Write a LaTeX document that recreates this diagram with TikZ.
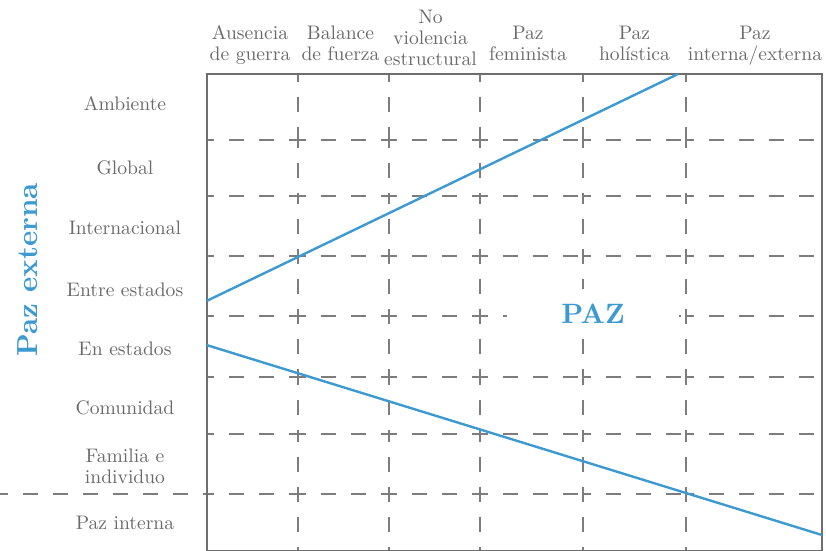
\documentclass[tikz,border=0pt]{standalone}
\usepackage{fontspec}
\setmainfont{lmroman10-regular.otf}[BoldFont=lmroman10-bold.otf]
\definecolor{txtgray}{RGB}{105,105,105}
\definecolor{framegray}{RGB}{110,110,110}
\definecolor{dashgray}{RGB}{125,125,125}
\definecolor{pazblue}{RGB}{61,154,209}
\begin{document}
\begin{tikzpicture}[x=1pt,y=-1pt,
  lbl/.style={inner sep=0pt, anchor=base, text=txtgray, font=\fontsize{19.6}{21}\selectfont},
  gridline/.style={draw=dashgray, line width=1.4pt, dash pattern=on 15pt off 15pt, dash phase=7.5pt},
  framebox/.style={draw=framegray, line width=2pt},
  pazline/.style={draw=pazblue, line width=2.4pt},
  bigblue/.style={inner sep=0pt, text=pazblue}]
\useasboundingbox (0,0) rectangle (826,550);
\begin{scope}
\clip (0,0) rectangle (826,550);
% horizontal dashed segments
\foreach \a/\b in {206.5/298,298/389,389/480,480/583,583/686,686/822}{
  \foreach \y in {140,196,256,316,377,434,494}{
    \draw[gridline] (\a,\y) -- (\b,\y);
  }
}
\draw[gridline] (0,494) -- (206.5,494);
% vertical dashed segments
\foreach \x in {298,389,480,583,686}{
  \foreach \a/\b in {74/140,140/196,196/256,256/316,316/377,377/434,434/494,494/550}{
    \draw[gridline] (\x,\a) -- (\x,\b);
  }
}
% PAZ label (white box over the grid)
\node[bigblue, fill=white, minimum width=172pt, minimum height=50pt,
      font=\fontsize{28}{32}\selectfont\bfseries] (paz) at (593,314) {PAZ};
% frame
\draw[framebox] (206.5,74) rectangle (822,551);
% blue lines
\coordinate (u1) at (206.5,301);
\coordinate (u2) at (678,74);
\coordinate (l1) at (206.5,345);
\coordinate (l2) at (822,535);
\draw[pazline] (u1) -- (u2);
\draw[pazline] (l1) -- (l2);
\end{scope}
% column headers
\node[lbl] (h1) at (250,39) {\begin{tabular}[t]{@{}c@{}}Ausencia\\de guerra\end{tabular}};
\node[lbl] (h2) at (340.5,39) {\begin{tabular}[t]{@{}c@{}}Balance\\de fuerza\end{tabular}};
\node[lbl] (h3) at (430.5,23) {\begin{tabular}[t]{@{}c@{}}No\\violencia\\estructural\end{tabular}};
\node[lbl] (h4) at (528,39) {\begin{tabular}[t]{@{}c@{}}Paz\\feminista\end{tabular}};
\node[lbl] (h5) at (634.5,39) {\begin{tabular}[t]{@{}c@{}}Paz\\holística\end{tabular}};
\node[lbl] (h6) at (755,39) {\begin{tabular}[t]{@{}c@{}}Paz\\interna/externa\end{tabular}};
% row labels
\node[lbl] (r1) at (125,110.7) {Ambiente};
\node[lbl] (r2) at (125,174) {Global};
\node[lbl] (r3) at (125,234) {Internacional};
\node[lbl] (r4) at (125,296) {Entre estados};
\node[lbl] (r5) at (125,355) {En estados};
\node[lbl] (r6) at (125,414) {Comunidad};
\node[lbl] (r7) at (125,462) {\begin{tabular}[t]{@{}c@{}}Familia e\\individuo\end{tabular}};
\node[lbl] (r8) at (125,529) {Paz interna};
% vertical label
\node[bigblue, anchor=base, rotate=90, font=\fontsize{29}{32}\selectfont\bfseries] (ext) at (37,270) {Paz externa};
\end{tikzpicture}
\end{document}
